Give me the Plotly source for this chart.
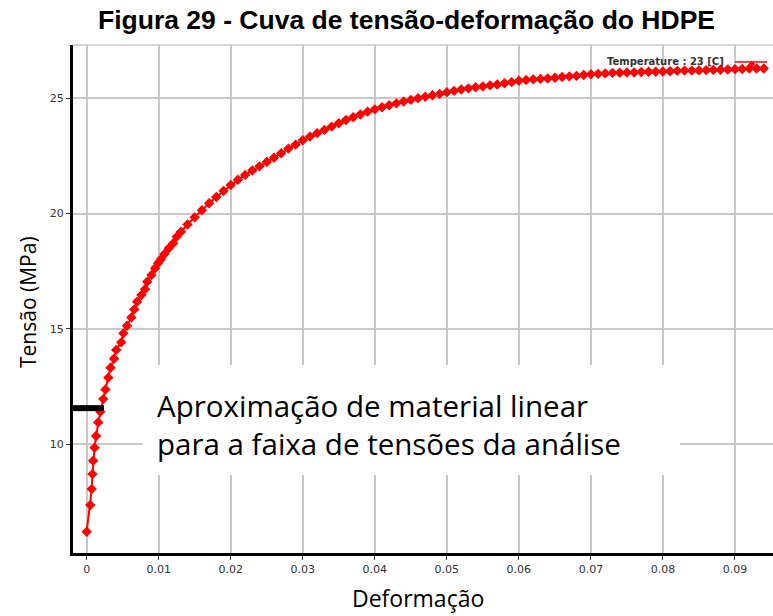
import plotly.graph_objects as go

# Strain (Deformação) and stress (Tensão, MPa)
deformacao = [
    0.0000, 0.0005, 0.0007, 0.0008, 0.0009, 0.0011, 0.0013, 0.0016, 0.0019, 0.0023,
    0.0026, 0.0030, 0.0033, 0.0038, 0.0041, 0.0048, 0.0051, 0.0056, 0.0062, 0.0066,
    0.0070, 0.0076, 0.0081, 0.0084, 0.0090, 0.0095, 0.0099, 0.0103, 0.0108, 0.0114,
    0.0120, 0.0125, 0.0131, 0.014, 0.015, 0.016, 0.017, 0.018, 0.019, 0.020,
    0.021, 0.022, 0.023, 0.024, 0.025, 0.026, 0.027, 0.028, 0.029, 0.030,
    0.031, 0.032, 0.033, 0.034, 0.035, 0.036, 0.037, 0.038, 0.039, 0.040,
    0.041, 0.042, 0.043, 0.044, 0.045, 0.046, 0.047, 0.048, 0.049, 0.050,
    0.051, 0.052, 0.053, 0.054, 0.055, 0.056, 0.057, 0.058, 0.059, 0.060,
    0.061, 0.062, 0.063, 0.064, 0.065, 0.066, 0.067, 0.068, 0.069, 0.070,
    0.071, 0.072, 0.073, 0.074, 0.075, 0.076, 0.077, 0.078, 0.079, 0.080,
    0.081, 0.082, 0.083, 0.084, 0.085, 0.086, 0.087, 0.088, 0.089, 0.090,
    0.091, 0.092, 0.093, 0.094,
]
tensao = [
    6.21, 7.37, 8.06, 8.71, 9.29, 9.85, 10.36, 10.95, 11.41, 11.96,
    12.38, 12.89, 13.32, 13.71, 14.09, 14.42, 14.81, 15.14, 15.50, 15.85,
    16.18, 16.47, 16.72, 17.05, 17.34, 17.63, 17.85, 18.02, 18.25, 18.50,
    18.71, 19.00, 19.22, 19.53, 19.84, 20.15, 20.45, 20.72, 20.98, 21.24,
    21.47, 21.68, 21.87, 22.05, 22.24, 22.42, 22.62, 22.82, 22.99, 23.18,
    23.34, 23.49, 23.63, 23.77, 23.92, 24.06, 24.18, 24.30, 24.42, 24.52,
    24.61, 24.70, 24.78, 24.86, 24.93, 25.00, 25.07, 25.13, 25.19, 25.26,
    25.32, 25.38, 25.43, 25.48, 25.51, 25.56, 25.60, 25.65, 25.70, 25.76,
    25.79, 25.82, 25.84, 25.86, 25.89, 25.92, 25.95, 25.97, 26.01, 26.04,
    26.06, 26.08, 26.10, 26.11, 26.12, 26.12, 26.14, 26.15, 26.15, 26.16,
    26.17, 26.19, 26.20, 26.20, 26.21, 26.22, 26.23, 26.24, 26.25, 26.26,
    26.27, 26.29, 26.29, 26.29,
]

x_ticks = [0, 0.01, 0.02, 0.03, 0.04, 0.05, 0.06, 0.07, 0.08, 0.09]
x_tick_labels = ["0", "0.01", "0.02", "0.03", "0.04", "0.05", "0.06", "0.07", "0.08", "0.09"]
y_ticks = [10, 15, 20, 25]
y_tick_labels = ["10", "15", "20", "25"]

tensao_linear = 11.57       # limit of the linear approximation
deformacao_linear = 0.0024

title_text = "Figura 29 - Cuva de tensão-deformação do HDPE"
legend_text = "Temperature : 23 [C]"
note_lines = ["Aproximação de material linear", "para a faixa de tensões da análise"]

X_RANGE = [-0.0019, 0.09528]
Y_RANGE = [5.29, 27.31]
RED = "#ff0000"
GRID = "#c8c8c8"


def px_x(p):
    return (p - 73) / 700


def px_y(p):
    return (553 - p) / 508


fig = go.Figure()
fig.add_trace(go.Scatter(
    x=deformacao, y=tensao, mode="lines+markers",
    line=dict(color=RED, width=2),
    marker=dict(symbol="diamond", size=8, color=RED),
    showlegend=False, hoverinfo="skip",
))

shapes = [
    # white box behind annotation text
    dict(type="rect", xref="x", yref="y", x0=0.0078, x1=0.0824, y0=8.67, y1=13.44,
         fillcolor="white", line=dict(width=0), layer="above"),
    # top border
    dict(type="line", xref="paper", yref="paper", x0=0, x1=1, y0=1, y1=1,
         line=dict(color=GRID, width=1.5), layer="below"),
    # black marker of linear limit
    dict(type="line", xref="x", yref="y", x0=X_RANGE[0], x1=deformacao_linear,
         y0=tensao_linear, y1=tensao_linear, line=dict(color="black", width=6)),
    # legend symbol
    dict(type="line", xref="paper", yref="paper", x0=px_x(735), x1=px_x(767),
         y0=px_y(62), y1=px_y(62), line=dict(color=RED, width=1.5)),
]
fig.update_layout(shapes=shapes)

annotations = [
    dict(text=title_text, xref="paper", yref="paper", x=px_x(406), y=px_y(20),
         xanchor="center", yanchor="middle", showarrow=False,
         font=dict(family="Liberation Sans, Arial", size=26.5, color="black", weight="bold")),
    dict(text="<b>" + legend_text + "</b>", xref="paper", yref="paper", x=px_x(726),
         y=px_y(61), xanchor="right", yanchor="middle", showarrow=False,
         font=dict(family="DejaVu Sans", size=10, color="#333333")),
    dict(text="◆", xref="paper", yref="paper", x=px_x(752), y=px_y(62),
         xanchor="center", yanchor="middle", showarrow=False,
         font=dict(size=8, color=RED)),
    dict(text=note_lines[0] + "<br>" + note_lines[1], xref="paper", yref="paper",
         x=px_x(155), y=px_y(424), xanchor="left", yanchor="middle",
         align="left", showarrow=False,
         font=dict(family="Open Sans", size=29.5, color="black")),
    dict(text="Deformação", xref="paper", yref="paper", x=px_x(418), y=px_y(598),
         xanchor="center", yanchor="middle", showarrow=False,
         font=dict(family="Open Sans", size=23, color="black")),
    dict(text="Tensão (MPa)", xref="paper", yref="paper", x=px_x(28), y=px_y(302),
         xanchor="center", yanchor="middle", showarrow=False, textangle=-90,
         font=dict(family="Open Sans", size=21, color="black")),
]
fig.update_layout(annotations=annotations)

fig.update_layout(
    width=773, height=616,
    margin=dict(l=73, r=0, t=45, b=63),
    plot_bgcolor="white", paper_bgcolor="white",
    xaxis=dict(range=X_RANGE, tickvals=x_ticks, ticktext=x_tick_labels,
               showgrid=True, gridcolor=GRID, gridwidth=1.5, zeroline=False,
               showline=True, linecolor="black", linewidth=3,
               ticks="outside", ticklen=4, tickcolor="#333333", tickwidth=1,
               tickfont=dict(family="DejaVu Sans", size=11, color="#333333")),
    yaxis=dict(range=Y_RANGE, tickvals=y_ticks, ticktext=y_tick_labels,
               showgrid=True, gridcolor=GRID, gridwidth=1.5, zeroline=False,
               showline=True, linecolor="black", linewidth=3,
               ticks="outside", ticklen=4, tickcolor="#333333", tickwidth=1,
               tickfont=dict(family="DejaVu Sans", size=11, color="#333333")),
)

fig.write_html("out.html")
